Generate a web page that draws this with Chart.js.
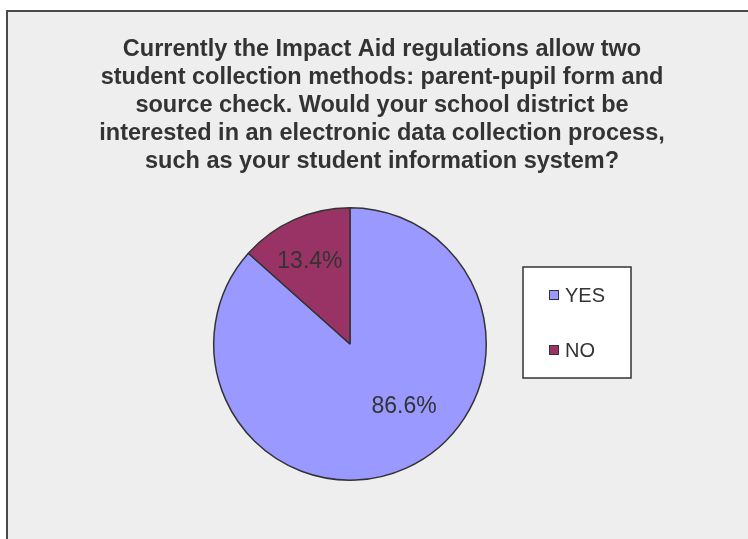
<!DOCTYPE html>
<html>
<head>
<meta charset="utf-8">
<script src="https://cdn.jsdelivr.net/npm/chart.js@4/dist/chart.umd.min.js"></script>
<style>
  html, body { margin: 0; padding: 0; background: #ffffff; }
  canvas { display: block; }
</style>
</head>
<body>
<canvas id="c" width="748" height="539"></canvas>
<script>
const titleLines = [
  'Currently the Impact Aid regulations allow two',
  'student collection methods: parent-pupil form and',
  'source check. Would your school district be',
  'interested in an electronic data collection process,',
  'such as your student information system?'
];
const categories = ['YES', 'NO'];
const percentages = [86.6, 13.4];
const sliceColors = ['#9999ff', '#993366'];

const framePlugin = {
  id: 'frame',
  beforeDraw(chart) {
    const ctx = chart.ctx;
    ctx.save();
    ctx.fillStyle = '#ffffff';
    ctx.fillRect(0, 0, chart.width, chart.height);
    ctx.fillStyle = '#eeeeee';
    ctx.fillRect(7, 11, chart.width + 20, chart.height + 20);
    ctx.strokeStyle = '#4a4a4a';
    ctx.lineWidth = 2;
    ctx.strokeRect(7, 11, chart.width + 20, chart.height + 20);
    ctx.restore();
  }
};

const titlePlugin = {
  id: 'titleLines',
  afterDraw(chart, args, opts) {
    const ctx = chart.ctx;
    ctx.save();
    ctx.fillStyle = '#333333';
    ctx.font = opts.font;
    ctx.textAlign = 'center';
    ctx.textBaseline = 'alphabetic';
    opts.lines.forEach((line, i) => {
      ctx.fillText(line, opts.x, opts.y + i * opts.lineHeight);
    });
    ctx.restore();
  }
};

const legendBoxPlugin = {
  id: 'legendBox',
  afterDraw(chart, args, opts) {
    const ctx = chart.ctx;
    const ds = chart.data.datasets[0];
    ctx.save();
    ctx.fillStyle = '#ffffff';
    ctx.fillRect(opts.left, opts.top, opts.width, opts.height);
    ctx.strokeStyle = '#333333';
    ctx.lineWidth = 1.5;
    ctx.strokeRect(opts.left, opts.top, opts.width, opts.height);
    ctx.font = opts.font;
    ctx.textBaseline = 'middle';
    ctx.textAlign = 'left';
    chart.data.labels.forEach((lab, i) => {
      const cy = opts.firstY + i * opts.step;
      ctx.fillStyle = ds.backgroundColor[i];
      ctx.fillRect(opts.boxX, cy - 5, 10, 10);
      ctx.strokeStyle = '#333333';
      ctx.lineWidth = 1;
      ctx.strokeRect(opts.boxX + 0.5, cy - 4.5, 9, 9);
      ctx.fillStyle = '#333333';
      ctx.fillText(lab, opts.textX, cy + 1);
    });
    ctx.restore();
  }
};

const sliceLabelPlugin = {
  id: 'sliceLabels',
  afterDatasetsDraw(chart, args, opts) {
    const ctx = chart.ctx;
    const meta = chart.getDatasetMeta(0);
    const ds = chart.data.datasets[0];
    ctx.save();
    ctx.font = opts.font;
    ctx.fillStyle = '#333333';
    ctx.textAlign = 'center';
    ctx.textBaseline = 'middle';
    meta.data.forEach((arc, i) => {
      const p = arc.getProps(['x', 'y', 'startAngle', 'endAngle', 'outerRadius'], true);
      const place = opts.placement[i];
      const a = p.startAngle + (p.endAngle - p.startAngle) * place.frac;
      const r = p.outerRadius * place.r;
      ctx.fillText(ds.data[i].toFixed(1) + '%', p.x + Math.cos(a) * r, p.y + Math.sin(a) * r);
    });
    ctx.restore();
  }
};

new Chart(document.getElementById('c'), {
  type: 'pie',
  data: {
    labels: categories,
    datasets: [{
      data: percentages,
      backgroundColor: sliceColors,
      borderColor: '#333333',
      borderWidth: 1.5
    }]
  },
  options: {
    responsive: false,
    animation: false,
    events: [],
    layout: { padding: { left: 213, right: 261, top: 207, bottom: 58 } },
    plugins: {
      legend: { display: false },
      title: { display: false },
      tooltip: { enabled: false },
      titleLines: {
        lines: titleLines,
        font: 'bold 23.5px "Liberation Sans", Arial, sans-serif',
        x: 382, y: 56, lineHeight: 28
      },
      legendBox: {
        left: 523, top: 267, width: 108, height: 111,
        boxX: 549, textX: 565, firstY: 295, step: 55,
        font: '20px "Liberation Sans", Arial, sans-serif'
      },
      sliceLabels: {
        font: '23px "Liberation Sans", Arial, sans-serif',
        placement: [{ frac: 0.447, r: 0.61 }, { frac: 0.46, r: 0.67 }]
      }
    }
  },
  plugins: [framePlugin, titlePlugin, legendBoxPlugin, sliceLabelPlugin]
});
</script>
</body>
</html>
